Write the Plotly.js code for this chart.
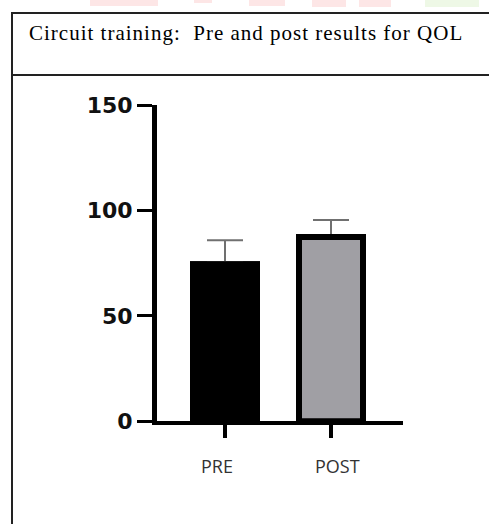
<!DOCTYPE html>
<html>
<head>
<meta charset="utf-8">
<script src="https://cdn.plot.ly/plotly-3.0.1.min.js"></script>
<style>html,body{margin:0;padding:0;background:#fff;}#chart{width:489px;height:524px;}</style>
</head>
<body>
<div id="chart"></div>
<script>
// ---- data ----
const categories = ["PRE", "POST"];
const meanValues = [75.5, 87.5];
const errorValues = [10.4, 8];
const yTickValues = [0, 50, 100, 150];
const yTickLabels = ["0", "50", "100", "150"];
const chartTitle = "Circuit training:  Pre and post results for QOL";

const W = 489, H = 524;
const px = v => v / W;
const py = v => 1 - v / H;

const barStyle = {
  type: "bar",
  x: categories,
  y: meanValues,
  width: [0.6415, 0.604],
  marker: {
    color: ["#000000", "#a09fa4"],
    line: { color: "#000000", width: [2, 6] }
  },
  hoverinfo: "none"
};
// bars with upward error bars, then the same bars on top to hide the lower caps
const traceErr = Object.assign({}, barStyle, {
  error_y: { type: "data", symmetric: false, array: errorValues, arrayminus: categories.map(() => 0),
             visible: true, color: "#707070", thickness: 2, width: 18 }
});
const traceBars = Object.assign({}, barStyle);

const shapes = [
  // watermark remnants
  { type: "rect", xref: "paper", yref: "paper", x0: px(90), x1: px(158), y0: py(6), y1: py(0), fillcolor: "#fde6e6", line: { width: 0 }, layer: "below" },
  { type: "rect", xref: "paper", yref: "paper", x0: px(194), x1: px(212), y0: py(3), y1: py(0), fillcolor: "#fde6e6", line: { width: 0 }, layer: "below" },
  { type: "rect", xref: "paper", yref: "paper", x0: px(249), x1: px(285), y0: py(6), y1: py(0), fillcolor: "#fde6e6", line: { width: 0 }, layer: "below" },
  { type: "rect", xref: "paper", yref: "paper", x0: px(312), x1: px(346), y0: py(7), y1: py(0), fillcolor: "#fde6e6", line: { width: 0 }, layer: "below" },
  { type: "rect", xref: "paper", yref: "paper", x0: px(359), x1: px(391), y0: py(7), y1: py(0), fillcolor: "#fde6e6", line: { width: 0 }, layer: "below" },
  { type: "rect", xref: "paper", yref: "paper", x0: px(425), x1: px(479), y0: py(7), y1: py(0), fillcolor: "#eef8e6", line: { width: 0 }, layer: "below" },
  // frame
  { type: "line", xref: "paper", yref: "paper", x0: px(11), x1: px(489), y0: py(13), y1: py(13), line: { color: "#222", width: 2 } },
  { type: "line", xref: "paper", yref: "paper", x0: px(12), x1: px(12), y0: py(12), y1: py(524), line: { color: "#222", width: 2 } },
  { type: "line", xref: "paper", yref: "paper", x0: px(11), x1: px(489), y0: py(75), y1: py(75), line: { color: "#222", width: 2 } }
];

const labelShift = [-8, 6];
const annotations = [
  { xref: "paper", yref: "paper", x: px(27), y: py(33), xanchor: "left", yanchor: "middle",
    text: '<span style="letter-spacing:1px">' + chartTitle + '</span>', showarrow: false,
    font: { family: "Liberation Serif, Times New Roman, serif", size: 21, color: "#000" } }
].concat(categories.map((c, i) => ({
  xref: "x", yref: "paper", x: c, y: py(466), xanchor: "center", yanchor: "middle",
  xshift: labelShift[i], text: c, showarrow: false,
  font: { family: "Open Sans, sans-serif", size: 18, color: "#333" }
})));

const layout = {
  width: W, height: H,
  margin: { l: 0, r: 0, t: 0, b: 0, pad: 0 },
  paper_bgcolor: "#fff", plot_bgcolor: "#fff",
  showlegend: false,
  barmode: "overlay",
  xaxis: {
    domain: [px(157), px(403)],
    type: "category",
    range: [-0.6415, 1.679],
    showline: true, linecolor: "#000", linewidth: 4,
    ticks: "outside", ticklen: 13, tickwidth: 4, tickcolor: "#000",
    showticklabels: false, showgrid: false, zeroline: false, fixedrange: true
  },
  yaxis: {
    domain: [py(421.3), py(105.3)],
    range: [0, 150],
    tickvals: yTickValues, ticktext: yTickLabels,
    showline: true, linecolor: "#000", linewidth: 5,
    ticks: "outside", ticklen: 15, tickwidth: 3, tickcolor: "#000",
    tickfont: { family: "DejaVu Sans, sans-serif", size: 22, color: "#111", weight: "bold" },
    showgrid: false, zeroline: false, fixedrange: true
  },
  shapes: shapes,
  annotations: annotations
};

Plotly.newPlot("chart", [traceErr, traceBars], layout, { displayModeBar: false, staticPlot: true });
</script>
</body>
</html>
